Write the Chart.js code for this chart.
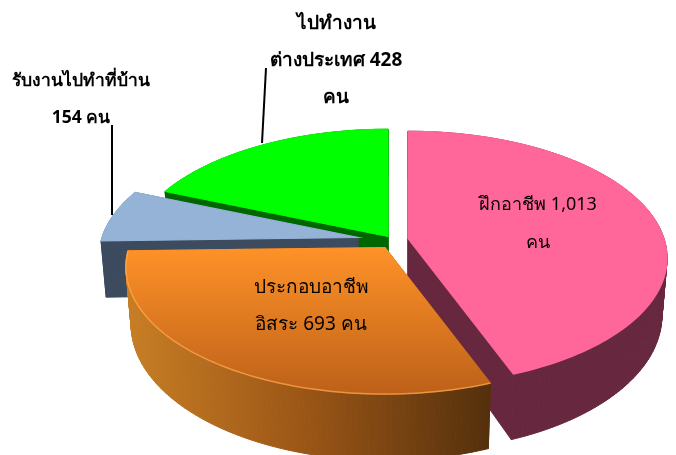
<!DOCTYPE html>
<html>
<head>
<meta charset="utf-8">
<style>
  html, body { margin: 0; padding: 0; background: #fff; }
  #wrap { width: 676px; height: 455px; }
</style>
<script src="https://cdn.jsdelivr.net/npm/chart.js@4"></script>
</head>
<body>
<div id="wrap"><canvas id="chart" width="676" height="455"></canvas></div>
<script>
const categories = ["ฝึกอาชีพ", "ประกอบอาชีพอิสระ", "รับงานไปทำที่บ้าน", "ไปทำงานต่างประเทศ"];
const values = [1013, 693, 154, 428];
const labelLines = [
    ["ฝึกอาชีพ 1,013", "คน"],
    ["ประกอบอาชีพ", "อิสระ 693 คน"],
    ["รับงานไปทำที่บ้าน", "154 คน"],
    ["ไปทำงาน", "ต่างประเทศ 428", "คน"]
];

// look of the 3d pie, per slice in the same order as categories
const topColors = ["#ff6699", ["#ff9228", "#bd6119"], "#95b3d7", "#00ff00"];
const sideColors = ["#66273f", ["#c87e24", "#9a5516", "#54300c"], "#3d4b5f", "#006600"];
const centerShift = [[70, 11], [47, 20], [20, 10], [50, 9]];
const drawOrder = [3, 2, 0, 1];
const labelStyle = [
    { x: 538, y: 205, font: "18px", gap: 38 },
    { x: 311, y: 288, font: "19px", gap: 37 },
    { x: 81, y: 81, font: "bold 17.5px", gap: 37 },
    { x: 336, y: 24, font: "bold 19px", gap: 37 }
];
const leaders = [[[112, 125], [112, 215]], [[266, 68], [262, 143]]];

const perspective = 0.155;
const squash = 0.484;
const depth = 56;
const bottomNarrow = 0.98;
const radiusScale = 1.125;

function outline(arc, shift) {
    const cx = arc.x + shift[0], cy = arc.y + shift[1];
    const rx = arc.outerRadius * radiusScale, ry = rx * squash;
    const start = arc.startAngle + Math.PI / 2, end = arc.endAngle + Math.PI / 2;
    const pts = [{ x: cx, y: cy, w: 1 }];
    const steps = Math.ceil((end - start) / 0.02);
    for (let i = 0; i <= steps; i++) {
        const a = start + (end - start) * i / steps;
        const w = 1 / (1 + perspective * Math.cos(a));
        pts.push({ x: cx + rx * Math.sin(a) * w, y: cy - ry * Math.cos(a) * w, w: w });
    }
    return { pts: pts, cx: cx, cy: cy };
}

function paint(ctx, color, x0, y0, x1, y1) {
    if (!Array.isArray(color)) return color;
    const g = ctx.createLinearGradient(x0, y0, x1, y1);
    color.forEach((c, i) => g.addColorStop(i / (color.length - 1), c));
    return g;
}

function polyPath(ctx, pts) {
    ctx.beginPath();
    pts.forEach((p, i) => i ? ctx.lineTo(p.x, p.y) : ctx.moveTo(p.x, p.y));
    ctx.closePath();
}

const pie3d = {
    id: "pie3d",
    beforeDatasetDraw(chart) {
        const ctx = chart.ctx;
        const arcs = chart.getDatasetMeta(0).data;
        drawOrder.forEach(i => {
            const o = outline(arcs[i], centerShift[i]);
            const xs = o.pts.map(p => p.x), ys = o.pts.map(p => p.y);
            const minX = Math.min(...xs), maxX = Math.max(...xs);
            const minY = Math.min(...ys), maxY = Math.max(...ys);

            // side wall
            const side = paint(ctx, sideColors[i], minX, 0, maxX, 0);
            ctx.fillStyle = side;
            ctx.strokeStyle = side;
            ctx.lineWidth = 1;
            const bottom = o.pts.map(p => ({
                x: o.cx + (p.x - o.cx) * bottomNarrow,
                y: p.y + depth * p.w
            }));
            o.pts.forEach((p, n) => {
                const m = (n + 1) % o.pts.length;
                polyPath(ctx, [p, o.pts[m], bottom[m], bottom[n]]);
                ctx.fill();
                ctx.stroke();
            });

            // top face, stroked in its own colour so the wall does not peek out
            const top = paint(ctx, topColors[i], 0, minY, 0, maxY);
            ctx.fillStyle = top;
            ctx.strokeStyle = top;
            ctx.lineWidth = 1.2;
            polyPath(ctx, o.pts);
            ctx.fill();
            ctx.stroke();
            if (i === 1) {
                ctx.strokeStyle = "rgba(255,170,80,0.7)";
                ctx.lineWidth = 1.5;
                ctx.beginPath();
                o.pts.slice(1).forEach((p, n) => n ? ctx.lineTo(p.x, p.y) : ctx.moveTo(p.x, p.y));
                ctx.stroke();
            }
        });
        return false;
    },
    afterDraw(chart) {
        const ctx = chart.ctx;
        ctx.save();
        ctx.strokeStyle = "#000";
        ctx.lineWidth = 2;
        leaders.forEach(l => {
            ctx.beginPath();
            ctx.moveTo(l[0][0], l[0][1]);
            ctx.lineTo(l[1][0], l[1][1]);
            ctx.stroke();
        });
        ctx.fillStyle = "#000";
        ctx.textAlign = "center";
        ctx.textBaseline = "middle";
        labelLines.forEach((lines, i) => {
            const s = labelStyle[i];
            ctx.font = s.font + ' "Noto Sans", "DejaVu Sans", sans-serif';
            lines.forEach((t, n) => ctx.fillText(t, s.x, s.y + n * s.gap));
        });
        ctx.restore();
    }
};

new Chart(document.getElementById("chart").getContext("2d"), {
    type: "pie",
    data: {
        labels: categories,
        datasets: [{
            data: values,
            backgroundColor: topColors.map(c => Array.isArray(c) ? c[0] : c),
            borderWidth: 0
        }]
    },
    options: {
        responsive: false,
        animation: false,
        layout: { padding: 0 },
        plugins: {
            legend: { display: false },
            tooltip: { enabled: false }
        }
    },
    plugins: [pie3d]
});
</script>
</body>
</html>
